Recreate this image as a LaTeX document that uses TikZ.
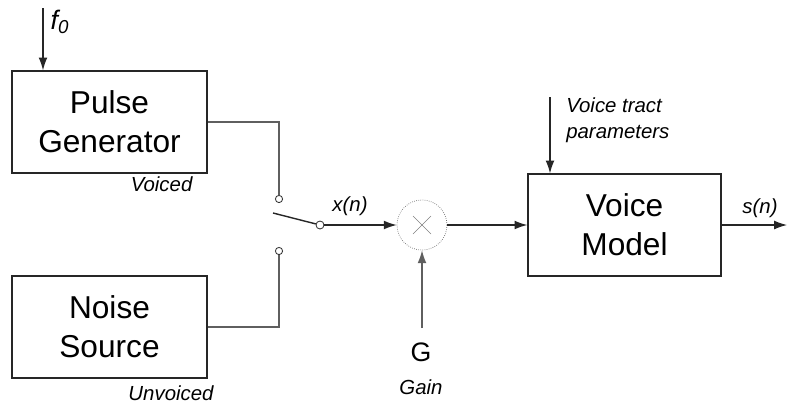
\documentclass[tikz,border=0pt]{standalone}
\usepackage{fontspec}
\setmainfont{Liberation Sans}
\usetikzlibrary{arrows.meta,positioning}
\definecolor{wiregray}{RGB}{95,95,95}

\begin{document}
\begin{tikzpicture}[
    x=0.025cm, y=-0.025cm,
    block/.style={rectangle, draw=black!85, line width=0.9pt, minimum width=4.875cm, minimum height=2.55cm, align=center, inner sep=0pt, font=\fontsize{22.5}{27.5}\selectfont},
    tag/.style={inner sep=0pt, font=\fontsize{14.5}{18.5}\selectfont\itshape},
    wire/.style={draw=wiregray, line width=0.75pt},
    arrow/.style={-{Latex[length=3.2mm,width=2.2mm]}, line width=0.8pt, black!85},
    contact/.style={circle, draw=black!80, fill=white, line width=0.6pt, minimum size=0.18cm, inner sep=0pt}
]
\useasboundingbox (0,0) rectangle (787,403);

% Sources
\node[block] (pulse) at (109.5,122) {Pulse\\Generator};
\node[block] (noise) at (109.5,327) {Noise\\Source};
\node[tag, below left=0.08cm and 0.375cm of pulse.south east] (voiced) {Voiced};
\node[tag] (unvoiced) at (171,393) {Unvoiced};

% Pitch input
\coordinate (fin) at (43,8);
\node[inner sep=0pt, font=\fontsize{19}{22}\selectfont\itshape] (fzero) at (60,22) {f\textsubscript{0}};
\draw[arrow] (fin) -- (fin |- pulse.north);

% Switch
\node[contact] (top) at (279,199) {};
\node[contact] (bottom) at (279,251) {};
\node[contact, minimum size=0.2cm] (pivot) at (320,225) {};
\coordinate (blade) at (273,213);
\draw[wire] (pulse.east) -| (top.north);
\draw[wire] (noise.east) -| (bottom.south);
\draw[line width=1pt, black!85] (blade) -- (pivot);
\node[tag] (xn) at (350,206) {x(n)};

% Gain multiplier
\node[circle, draw=black!55, densely dotted, line width=0.5pt, minimum size=1.25cm, inner sep=0pt] (mult) at (422,225) {};
\draw[gray, thin] ([shift={(-9,-9)}]mult.center) -- ([shift={(9,9)}]mult.center);
\draw[gray, thin] ([shift={(-9,9)}]mult.center) -- ([shift={(9,-9)}]mult.center);
\draw[arrow] (pivot) -- (mult);

\coordinate (gin) at (422,328);
\draw[arrow, wiregray] (gin) -- (mult.south);
\node[inner sep=0pt, font=\fontsize{19}{22}\selectfont] (gee) at (421,352) {G};
\node[tag] (gain) at (421,387) {Gain};

% Voice model
\node[block, minimum width=4.825cm] (model) at (624.5,225) {Voice\\Model};
\draw[arrow] (mult) -- (model);

\coordinate (vtin) at (550,97);
\draw[arrow] (vtin) -- (vtin |- model.north);
\node[tag, align=left, anchor=west] (tract) at (566,120) {Voice tract\\parameters};

\coordinate (sout) at (787,225);
\draw[arrow] (model) -- (sout);
\node[tag] (sn) at (760,208) {s(n)};

\end{tikzpicture}
\end{document}
